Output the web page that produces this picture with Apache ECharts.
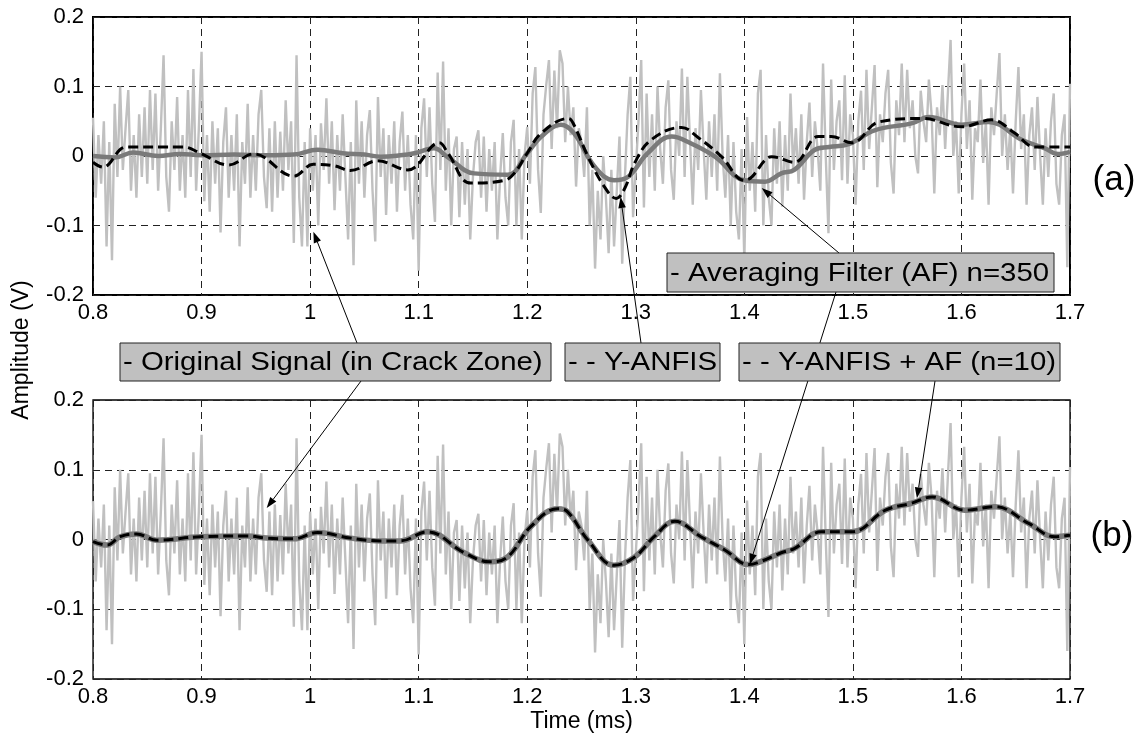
<!DOCTYPE html>
<html><head><meta charset="utf-8">
<script src="https://cdn.jsdelivr.net/npm/echarts@6/dist/echarts.min.js"></script>
<style>html,body{margin:0;padding:0;background:#fff}#c{width:1147px;height:744px}</style>
</head><body><div id="c"></div>
<script>
// ---- data ----
const T0 = 0.8, DT = 0.0025;           // sample time grid of the original signal (ms)
const originalSignal = [
 0.055,-0.06,0.03,-0.04,0.05,-0.13,0.02,-0.15,0.075,-0.03,0.10,-0.02,0.04,0.095,-0.05,0.03,-0.06,0.06,-0.03,0.07,
 -0.04,0.095,-0.02,0.09,-0.05,0.04,0.145,-0.03,-0.08,0.05,-0.02,0.085,-0.05,0.03,-0.06,0.095,-0.03,0.125,-0.05,0.04,
 0.15,-0.065,0.03,-0.08,0.05,-0.04,0.04,-0.11,0.02,0.07,-0.06,0.03,-0.05,0.06,-0.13,0.02,-0.04,0.075,-0.06,0.03,
 -0.05,0.06,0.095,-0.03,-0.075,0.04,-0.08,0.05,-0.06,0.035,-0.05,0.08,-0.02,0.05,-0.125,0.145,-0.06,-0.13,0.02,-0.13,
 0.04,-0.05,0.03,-0.10,0.047,-0.02,0.083,-0.04,0.05,-0.078,0.03,-0.05,0.06,-0.03,-0.12,0.02,-0.157,0.08,-0.04,0.05,
 -0.06,0.03,0.066,-0.05,-0.123,0.085,-0.03,0.04,-0.085,0.03,-0.04,0.05,-0.08,0.02,0.064,-0.05,0.03,-0.07,-0.12,0.03,
 -0.165,0.04,0.083,-0.03,0.07,-0.04,-0.095,0.12,-0.02,0.136,-0.05,0.04,-0.10,0.01,0.028,-0.088,0.02,-0.07,0.01,-0.12,
 -0.03,0.02,0.037,-0.06,0.028,-0.08,0.01,-0.05,0.02,-0.12,-0.03,0.033,-0.06,-0.10,0.02,0.052,-0.10,0.01,-0.12,0.00,
 0.042,-0.04,0.09,0.128,-0.02,-0.082,0.06,0.102,0.138,0.01,0.123,0.04,0.152,0.133,0.02,0.10,0.03,0.07,-0.044,0.04,
 0.02,-0.03,0.07,-0.10,-0.02,-0.162,-0.05,-0.12,0.00,-0.06,-0.14,-0.02,-0.13,-0.05,0.028,-0.155,-0.03,0.06,0.114,-0.088,
 -0.02,0.05,0.138,-0.074,0.09,-0.03,0.06,-0.05,0.10,0.01,-0.04,0.07,0.109,-0.02,-0.063,0.05,0.00,0.126,-0.03,0.114,
 0.02,-0.07,0.04,-0.02,0.095,0.01,-0.063,0.05,-0.03,0.06,-0.05,0.119,0.00,-0.06,0.03,-0.10,0.02,-0.08,-0.12,0.01,
 -0.15,0.056,-0.05,0.02,-0.08,0.09,0.124,-0.10,0.03,-0.06,-0.10,0.04,-0.04,0.05,-0.073,0.03,-0.05,0.09,-0.02,0.04,
 -0.04,0.06,-0.063,0.02,0.077,-0.03,0.05,0.01,-0.05,0.133,0.00,-0.111,0.11,-0.02,0.05,0.08,-0.035,0.116,-0.04,0.06,
 0.03,-0.07,0.05,0.094,-0.02,0.124,0.01,0.07,0.131,-0.045,0.06,0.02,0.09,0.124,-0.01,-0.054,0.08,0.03,0.133,0.02,
 0.124,0.04,0.08,0.00,-0.025,0.094,0.05,0.02,0.11,0.06,-0.054,0.07,0.03,0.102,0.01,0.09,0.167,0.00,0.05,-0.054,
 0.06,0.133,0.01,0.08,-0.063,0.04,0.02,0.11,-0.01,0.05,-0.07,0.07,0.03,0.09,0.148,0.00,0.06,-0.02,0.04,-0.054,
 0.05,0.128,0.01,0.06,-0.07,0.03,0.07,-0.02,0.085,0.00,-0.07,0.04,-0.03,0.05,0.09,-0.04,-0.07,0.03,0.06,-0.16,
 0.104
];
const afTime = [0.8,0.82,0.837,0.86,0.88,0.9,0.93,0.96,0.985,1.007,1.03,1.05,1.065,1.083,1.096,1.114,1.127,1.151,1.182,1.2,1.213,1.231,1.243,1.262,1.28,1.293,1.311,1.333,1.351,1.373,1.4,1.419,1.434,1.446,1.465,1.478,1.496,1.52,1.554,1.57,1.6,1.625,1.656,1.677,1.689,1.7];
const afValue = [0.0,-0.002,0.005,0.0,0.003,0.001,0.002,0.001,0.002,0.009,0.004,0.002,-0.001,0.001,0.004,0.011,-0.002,-0.025,-0.027,0.004,0.028,0.045,0.033,-0.015,-0.035,-0.03,0.004,0.028,0.018,-0.001,-0.035,-0.037,-0.025,-0.02,0.009,0.013,0.017,0.037,0.047,0.056,0.045,0.049,0.023,0.011,0.003,0.006];
const anfisTime = [0.8,0.809,0.831,0.883,0.899,0.925,0.948,0.985,1.003,1.022,1.037,1.062,1.09,1.119,1.127,1.148,1.179,1.188,1.2,1.213,1.238,1.243,1.256,1.271,1.282,1.29,1.299,1.314,1.342,1.358,1.379,1.4,1.407,1.419,1.425,1.446,1.468,1.48,1.499,1.524,1.564,1.6,1.628,1.649,1.668,1.7];
const anfisValue = [-0.009,-0.016,0.013,0.013,0.004,-0.013,0.003,-0.029,-0.012,-0.014,-0.021,-0.007,-0.02,0.019,0.004,-0.039,-0.035,-0.025,0.004,0.033,0.054,0.045,-0.001,-0.044,-0.061,-0.046,-0.01,0.023,0.041,0.026,-0.001,-0.035,-0.03,-0.006,-0.001,-0.009,0.028,0.028,0.019,0.049,0.054,0.042,0.052,0.033,0.013,0.013];
const anfisAfTime = [0.8,0.813,0.825,0.84,0.859,0.899,0.942,0.96,0.985,1.007,1.037,1.065,1.083,1.108,1.142,1.166,1.182,1.203,1.228,1.237,1.256,1.28,1.299,1.317,1.336,1.36,1.382,1.404,1.416,1.434,1.446,1.471,1.499,1.53,1.554,1.573,1.603,1.631,1.662,1.686,1.7];
const anfisAfValue = [-0.003,-0.008,0.004,0.008,-0.001,0.004,0.005,0.002,0.001,0.01,0.002,-0.002,-0.002,0.011,-0.019,-0.032,-0.025,0.018,0.044,0.04,-0.001,-0.037,-0.025,0.004,0.026,0.004,-0.015,-0.036,-0.031,-0.019,-0.013,0.011,0.011,0.042,0.052,0.061,0.042,0.047,0.023,0.004,0.006];
const xTicks = {min: 0.8, max: 1.7, step: 0.1};
const yTicks = {min: -0.2, max: 0.2, step: 0.1};
const labels = {
  original: '- Original Signal (in Crack Zone)',
  anfis: '- - Y-ANFIS',
  anfisAf: '- - Y-ANFIS + AF (n=10)',
  af: '- Averaging Filter (AF) n=350',
  xName: 'Time (ms)', yName: 'Amplitude (V)', a: '(a)', b: '(b)'
};
// annotation anchors: [gridIndex, time, amplitude]
const arrowTargets = [[0,1.003,-0.109],[1,0.96,0.045],[0,1.286,-0.059],[0,1.416,-0.046],[1,1.405,-0.036],[1,1.559,0.059]];

// ---- build ----
const zip = (t, v) => t.map((x, i) => [x, v[i]]);
const origData = originalSignal.map((v, i) => [+(T0 + i * DT).toFixed(4), v]);
const afData = zip(afTime, afValue);
const anfisData = zip(anfisTime, anfisValue);
const anfisAfData = zip(anfisAfTime, anfisAfValue);

const FONT = "'Liberation Sans', Arial, Helvetica, sans-serif";
const grids = [
  {left: 93, top: 17, width: 977, height: 278, show: true, borderColor: '#000', borderWidth: 2, backgroundColor: 'transparent'},
  {left: 93, top: 400, width: 977, height: 279, show: true, borderColor: '#000', borderWidth: 1.3, backgroundColor: 'transparent'}
];
const splitStyle = {show: true, lineStyle: {color: '#222', width: 1, type: [7, 5]}};
function xAx(i, name) {
  return {type: 'value', gridIndex: i, min: xTicks.min, max: xTicks.max, interval: xTicks.step,
    axisLine: {show: false}, axisTick: {show: false}, splitLine: splitStyle,
    axisLabel: {color: '#000', fontSize: 22, fontFamily: FONT, margin: 7, showMinLabel: true, showMaxLabel: true},
    name: name || '', nameLocation: 'middle', nameGap: 31,
    nameTextStyle: {color: '#000', fontSize: 23, fontFamily: FONT}};
}
function yAx(i) {
  return {type: 'value', gridIndex: i, min: yTicks.min, max: yTicks.max, interval: yTicks.step,
    axisLine: {show: false}, axisTick: {show: false}, splitLine: splitStyle,
    axisLabel: {color: '#000', fontSize: 22, fontFamily: FONT, margin: 9, showMinLabel: true, showMaxLabel: true}};
}
const lineBase = {type: 'line', showSymbol: false, symbol: 'none', silent: true, animation: false};
const smoothOpt = {smooth: 0.4};
const series = [
  Object.assign({}, lineBase, {xAxisIndex: 0, yAxisIndex: 0, data: origData, z: 1, lineStyle: {color: '#c0c0c0', width: 2.4}}),
  Object.assign({}, lineBase, smoothOpt, {xAxisIndex: 0, yAxisIndex: 0, data: afData, z: 2, lineStyle: {color: '#7a7a7a', width: 4.5}}),
  Object.assign({}, lineBase, smoothOpt, {xAxisIndex: 0, yAxisIndex: 0, data: anfisData, z: 3, lineStyle: {color: '#000', width: 3, type: [10, 5]}}),
  Object.assign({}, lineBase, {xAxisIndex: 1, yAxisIndex: 1, data: origData, z: 1, lineStyle: {color: '#c0c0c0', width: 2.4}}),
  Object.assign({}, lineBase, smoothOpt, {xAxisIndex: 1, yAxisIndex: 1, data: anfisAfData, z: 2, lineStyle: {color: '#7a7a7a', width: 5.5}}),
  Object.assign({}, lineBase, smoothOpt, {xAxisIndex: 1, yAxisIndex: 1, data: anfisAfData, z: 3, lineStyle: {color: '#000', width: 3, type: [10, 5]}})
];

const chart = echarts.init(document.getElementById('c'), null, {renderer: 'canvas'});
chart.setOption({
  animation: false, backgroundColor: '#fff',
  grid: grids,
  xAxis: [xAx(0), xAx(1, labels.xName)],
  yAxis: [yAx(0), yAx(1)],
  series: series
});

// ---- annotations ----
const boxes = [
  {text: labels.original, x: 120, y: 343, w: 431, h: 38, tail: [[357, 343], [361, 381]], targets: [0, 1]},
  {text: labels.anfis, x: 565, y: 343, w: 155, h: 38, tail: [[641, 343]], targets: [2]},
  {text: labels.anfisAf, x: 739, y: 343, w: 321, h: 38, tail: [[935, 381]], targets: [5]},
  {text: labels.af, x: 667, y: 253, w: 387, h: 39, tail: [[839, 253], [836, 292]], targets: [3, 4]}
];
const g = [];
boxes.forEach(b => {
  g.push({type: 'rect', z: 100, shape: {x: b.x, y: b.y, width: b.w, height: b.h}, style: {fill: '#c0c0c0', stroke: '#222', lineWidth: 1}});
  g.push({type: 'text', z: 101, x: b.x + 3, y: b.y + b.h / 2 + 1, scaleX: 1.13,
    style: {text: b.text, fill: '#000', font: '26px ' + FONT, textAlign: 'left', textVerticalAlign: 'middle', align: 'left', verticalAlign: 'middle'}});
  b.tail.forEach((tp, k) => {
    const tg = arrowTargets[b.targets[k]];
    const p = chart.convertToPixel({gridIndex: tg[0]}, [tg[1], tg[2]]);
    const dx = p[0] - tp[0], dy = p[1] - tp[1], L = Math.hypot(dx, dy), ux = dx / L, uy = dy / L;
    const hl = 11, hw = 3.8;
    const bx = p[0] - ux * hl, by = p[1] - uy * hl;
    g.push({type: 'line', z: 99, shape: {x1: tp[0], y1: tp[1], x2: bx, y2: by}, style: {stroke: '#000', lineWidth: 1}});
    g.push({type: 'polygon', z: 99, shape: {points: [[p[0], p[1]], [bx - uy * hw, by + ux * hw], [bx + uy * hw, by - ux * hw]]}, style: {fill: '#000'}});
  });
});
g.push({type: 'text', z: 101, x: 22, y: 350, rotation: Math.PI / 2,
  style: {text: labels.yName, fill: '#000', font: '23px ' + FONT, textAlign: 'center', textVerticalAlign: 'middle', align: 'center', verticalAlign: 'middle'}});
g.push({type: 'text', z: 101, x: 1114, y: 180,
  style: {text: labels.a, fill: '#000', font: '35px ' + FONT, textAlign: 'center', textVerticalAlign: 'middle', align: 'center', verticalAlign: 'middle'}});
g.push({type: 'text', z: 101, x: 1112, y: 536,
  style: {text: labels.b, fill: '#000', font: '35px ' + FONT, textAlign: 'center', textVerticalAlign: 'middle', align: 'center', verticalAlign: 'middle'}});
chart.setOption({graphic: g});
</script>
</body></html>
